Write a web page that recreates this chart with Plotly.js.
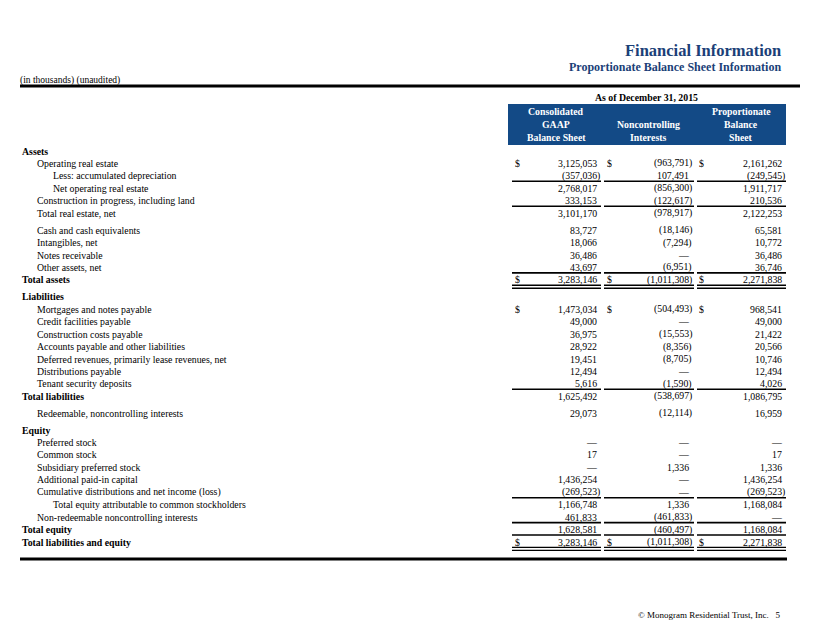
<!DOCTYPE html>
<html>
<head>
<meta charset="utf-8">
<script src="https://cdn.plot.ly/plotly-3.0.1.min.js"></script>
<style>
  body { margin: 0; background: #fff; }
  #plot { width: 822px; height: 635px; }
</style>
</head>
<body>
<div id="plot"></div>
<script>
// Dados da tabela (em milhares)
const rowLabels = [
  "Assets",
  "Operating real estate",
  "Less: accumulated depreciation",
  "Net operating real estate",
  "Construction in progress, including land",
  "Total real estate, net",
  "Cash and cash equivalents",
  "Intangibles, net",
  "Notes receivable",
  "Other assets, net",
  "Total assets",
  "Liabilities",
  "Mortgages and notes payable",
  "Credit facilities payable",
  "Construction costs payable",
  "Accounts payable and other liabilities",
  "Deferred revenues, primarily lease revenues, net",
  "Distributions payable",
  "Tenant security deposits",
  "Total liabilities",
  "Redeemable, noncontrolling interests",
  "Equity",
  "Preferred stock",
  "Common stock",
  "Subsidiary preferred stock",
  "Additional paid-in capital",
  "Cumulative distributions and net income (loss)",
  "Total equity attributable to common stockholders",
  "Non-redeemable noncontrolling interests",
  "Total equity",
  "Total liabilities and equity"
];

const rowLevel = [0, 1, 2, 2, 1, 1, 1, 1, 1, 1, 0, 0, 1, 1, 1, 1, 1, 1, 1, 0, 1, 0, 1, 1, 1, 1, 1, 2, 1, 0, 0];

const consolidated = [
  null, 3125053, -357036, 2768017, 333153, 3101170, 83727, 18066, 36486, 43697, 3283146,
  null, 1473034, 49000, 36975, 28922, 19451, 12494, 5616, 1625492, 29073,
  null, 0, 17, 0, 1436254, -269523, 1166748, 461833, 1628581, 3283146
];
const noncontrolling = [
  null, -963791, 107491, -856300, -122617, -978917, -18146, -7294, 0, -6951, -1011308,
  null, -504493, 0, -15553, -8356, -8705, 0, -1590, -538697, -12114,
  null, 0, 0, 1336, 0, 0, 1336, -461833, -460497, -1011308
];
const proportionate = [
  null, 2161262, -249545, 1911717, 210536, 2122253, 65581, 10772, 36486, 36746, 2271838,
  null, 968541, 49000, 21422, 20566, 10746, 12494, 4026, 1086795, 16959,
  null, 0, 17, 1336, 1436254, -269523, 1168084, 0, 1168084, 2271838
];

const columnHeaders = [
  ["Consolidated", "GAAP", "Balance Sheet"],
  ["", "Noncontrolling", "Interests"],
  ["Proportionate", "Balance", "Sheet"]
];

const dollarRows = [1, 10, 12, 30];
const singleRuleRows = [2, 4, 9, 18, 26, 28, 29];
const doubleRuleRows = [10, 30];
const gapBeforeRows = [6, 11, 20, 21];

// Layout (pixels)
const FONT = "Liberation Serif, Times New Roman, serif";
const NAVY = "#1b3f78";
const BOX = "#134a86";
const SZ = 9.8;
const rowStart = 151, rowStep = 12.45, rowGap = 4.4;
const indentX = [22, 37, 53];
const cols = [
  { left: 512, right: 601, digits: 597, dollar: 515, center: 556 },
  { left: 604, right: 694, digits: 689, dollar: 607, center: 648 },
  { left: 697, right: 786, digits: 782, dollar: 699, center: 741 }
];

function fmt(n) {
  return Math.abs(n).toString().replace(/\B(?=(\d{3})+(?!\d))/g, ",");
}

const rowY = [];
let y = rowStart;
rowLabels.forEach((_, i) => {
  if (i > 0) y += rowStep + (gapBeforeRows.includes(i) ? rowGap : 0);
  rowY.push(y);
});

const annotations = [];
const shapes = [];

function txt(x, yy, text, opts) {
  annotations.push(Object.assign({
    x: x, y: yy, xref: "x", yref: "y", text: text, showarrow: false,
    xanchor: "left", yanchor: "middle", borderpad: 0, borderwidth: 0,
    font: { family: FONT, size: SZ, color: "#000" }
  }, opts || {}));
}

// Cabeçalho
txt(781, 50, "<b>Financial Information</b>", { xanchor: "right", font: { family: FONT, size: 16.5, color: NAVY } });
txt(781, 67, "<b>Proportionate Balance Sheet Information</b>", { xanchor: "right", font: { family: FONT, size: 12, color: NAVY } });
txt(20, 80, "(in thousands) (unaudited)", { font: { family: FONT, size: 9.5, color: "#000" } });
shapes.push({ type: "line", xref: "x", yref: "y", x0: 20, x1: 800, y0: 86, y1: 86, line: { color: "#000", width: 3 } });
txt(646, 97, "<b>As of December 31, 2015</b>", { xanchor: "center" });

shapes.push({ type: "rect", xref: "x", yref: "y", x0: 508, x1: 786, y0: 104, y1: 145, fillcolor: BOX, line: { width: 0 }, layer: "below" });
const headerY = [111, 124, 137.5];
columnHeaders.forEach((lines, c) => {
  lines.forEach((t, k) => {
    if (t) txt(cols[c].center, headerY[k], "<b>" + t + "</b>", { xanchor: "center", font: { family: FONT, size: SZ, color: "#fff" } });
  });
});

// Linhas da tabela
const series = [consolidated, noncontrolling, proportionate];
rowLabels.forEach((label, i) => {
  const lvl = rowLevel[i];
  txt(indentX[lvl], rowY[i], lvl === 0 ? "<b>" + label + "</b>" : label);
  series.forEach((vals, c) => {
    const v = vals[i];
    if (v === null) return;
    let s, xr;
    if (v === 0) { s = "—"; xr = cols[c].digits; }
    else if (v < 0) { s = "(" + fmt(v) + ")"; xr = cols[c].digits + 3.3; }
    else { s = fmt(v); xr = cols[c].digits; }
    txt(xr, rowY[i], s, { xanchor: "right" });
    if (dollarRows.includes(i)) txt(cols[c].dollar, rowY[i], "$");
  });
  cols.forEach((col) => {
    if (singleRuleRows.includes(i)) {
      shapes.push({ type: "line", xref: "x", yref: "y", x0: col.left, x1: col.right, y0: rowY[i] + 5.4, y1: rowY[i] + 5.4, line: { color: "#000", width: 1.6 } });
    }
    if (doubleRuleRows.includes(i)) {
      [5.3, 8.3].forEach((d) => {
        shapes.push({ type: "line", xref: "x", yref: "y", x0: col.left, x1: col.right, y0: rowY[i] + d, y1: rowY[i] + d, line: { color: "#000", width: 1.4 } });
      });
    }
  });
});

const lastY = rowY[rowY.length - 1];
shapes.push({ type: "line", xref: "x", yref: "y", x0: 20, x1: 787, y0: lastY + 17, y1: lastY + 17, line: { color: "#000", width: 3 } });

txt(781, 615, "© Monogram Residential Trust, Inc.&nbsp;&nbsp;&nbsp;5", { xanchor: "right", font: { family: FONT, size: 9, color: "#000" } });

const layout = {
  width: 822,
  height: 635,
  margin: { l: 0, r: 0, t: 0, b: 0 },
  paper_bgcolor: "#fff",
  plot_bgcolor: "#fff",
  showlegend: false,
  xaxis: { range: [0, 822], visible: false, fixedrange: true },
  yaxis: { range: [635, 0], visible: false, fixedrange: true },
  annotations: annotations,
  shapes: shapes
};

Plotly.newPlot("plot", [{ x: [], y: [], type: "scatter", mode: "markers", hoverinfo: "skip" }], layout, { displayModeBar: false, staticPlot: true });
</script>
</body>
</html>
